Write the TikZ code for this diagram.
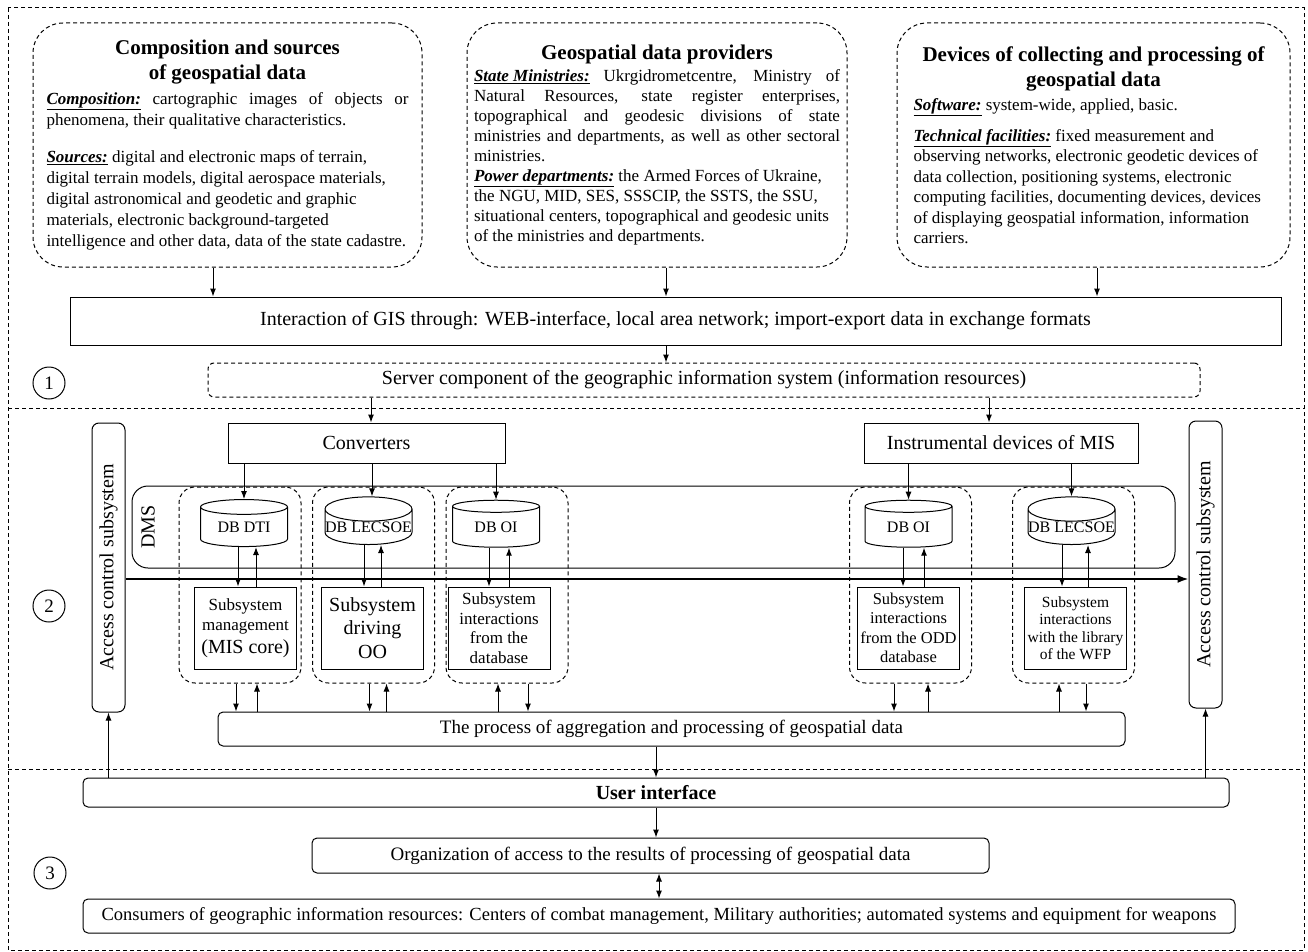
\documentclass[tikz,border=0pt]{standalone}
\usepackage{fontspec}
\setmainfont{Liberation Serif}
\usetikzlibrary{arrows.meta,positioning,shapes.geometric}

\newcommand{\hd}[1]{\underline{\textbf{\textit{#1}}}}
\newcommand{\fsz}[2]{\fontsize{#1}{#2}\selectfont}
\hyphenpenalty=10000

\tikzset{
  dsh/.style={dash pattern=on 4pt off 3pt},
  srcbox/.style={draw, dsh, rounded corners=30pt, minimum height=244pt, align=justify, inner sep=0pt},
  plainbox/.style={draw, inner sep=0pt, font=\fsz{20}{23}},
  rbox/.style={draw, rounded corners=5pt, inner sep=0pt, font=\fsz{19}{22}},
  grp/.style={draw, dsh, rounded corners=16pt, minimum width=122pt, minimum height=196pt},
  db/.style={draw, cylinder, shape border rotate=90, aspect=0.28, minimum width=87pt, minimum height=47pt, inner sep=0pt, font=\fsz{16}{18}},
  sub/.style={draw, minimum width=102pt, minimum height=82pt, inner sep=0pt, align=center},
  num/.style={draw, circle, minimum size=32pt, inner sep=0pt, font=\fsz{19}{20}},
}

\begin{document}
\begin{tikzpicture}[x=1pt, y=-1pt, line width=1pt, >={Latex[length=8pt,width=6pt]}]
\useasboundingbox (0,0) rectangle (1308,952);
% frame and levels
\draw[dsh] (8,8) rectangle (1304,950);
\draw[dsh] (8,408) -- (1304,408);
\draw[dsh] (8,769) -- (1304,769);

% level 1
\node[srcbox, minimum width=389pt, text width=362pt] (srcA) at (227.5,145) {%
  {\centering\fsz{21}{25}\bfseries Composition and sources\\of geospatial data\par}
  \vspace{4pt}
  {\fsz{17}{21}\hd{Composition:} cartographic images of objects or\linebreak phenomena, their qualitative characteristics.\par
  \vspace{16pt}
  \hd{Sources:} digital and electronic maps of terrain,\newline digital terrain models, digital aerospace materials,\newline digital astronomical and geodetic and graphic\newline materials, electronic background-targeted\newline intelligence and other data, data of the state cadastre.\par}};
\node[srcbox, minimum width=380pt, text width=366pt] (srcB) at (657,145) {%
  {\centering\fsz{21}{25}\bfseries Geospatial data providers\par}
  \vspace{2pt}
  {\fsz{17}{20}\hd{State Ministries:} Ukrgidrometcentre, Ministry of\linebreak Natural Resources, state register enterprises,\linebreak topographical and geodesic divisions of state\linebreak ministries and departments, as well as other sectoral\linebreak ministries.\par
  \hd{Power departments:} the Armed Forces of Ukraine,\newline the NGU, MID, SES, SSSCIP, the SSTS, the SSU,\newline situational centers, topographical and geodesic units\newline of the ministries and departments.\par}};
\node[srcbox, minimum width=393pt, text width=360pt] (srcC) at (1093.5,145) {%
  {\centering\fsz{21}{25}\bfseries Devices of collecting and processing of\\geospatial data\par}
  \vspace{4pt}
  {\fsz{17}{20.5}\hd{Software:} system-wide, applied, basic.\par
  \vspace{10pt}
  \hd{Technical facilities:} fixed measurement and\newline observing networks, electronic geodetic devices of\newline data collection, positioning systems, electronic\newline computing facilities, documenting devices, devices\newline of displaying geospatial information, information\newline carriers.\par}};

\node[plainbox, minimum width=1211pt, minimum height=48pt] (inter) at (675.5,321) {Interaction of GIS through: WEB-interface, local area network; import-export data in exchange formats};
\node[draw, dsh, rounded corners=6pt, minimum width=992pt, minimum height=34pt, inner sep=0pt, font=\fsz{20}{23}] (srv) at (704,380) {Server component of the geographic information system (information resources)};
\node[num] (n1) at (49,383) {1};

\draw[->] ([xshift=-14.5pt]srcA.south) -- ([xshift=-14.5pt]srcA.south |- inter.north);
\draw[->] ([xshift=9pt]srcB.south) -- ([xshift=9pt]srcB.south |- inter.north);
\draw[->] ([xshift=3.5pt]srcC.south) -- ([xshift=3.5pt]srcC.south |- inter.north);
\draw[->] ([xshift=9pt]srcB.south |- inter.south) -- ([xshift=9pt]srcB.south |- srv.north);

% level 2
\node[plainbox, minimum width=277pt, minimum height=40pt] (conv) at (366.5,443) {Converters};
\node[plainbox, minimum width=274pt, minimum height=40pt] (mis) at (1001,443) {Instrumental devices of MIS};
\node[draw, rounded corners=7pt, rotate=90, minimum width=289pt, minimum height=33pt, inner sep=0pt, font=\fsz{20}{22}] (lacs) at (108.5,567.5) {Access control subsystem};
\node[draw, rounded corners=7pt, rotate=90, minimum width=287pt, minimum height=33pt, inner sep=0pt, font=\fsz{20}{22}] (racs) at (1205.5,564.5) {Access control subsystem};
\node[num] (n2) at (49,606) {2};

\node[draw, rounded corners=16pt, minimum width=1043pt, minimum height=82pt] (dms) at (653.5,527) {};
\node[rotate=90, font=\fsz{20}{22}] (dmsname) at (148,527) {DMS};

\node[grp] (grpA) at (240,585) {};
\node[grp] (grpB) at (373.5,585) {};
\node[grp] (grpC) at (507,585) {};
\node[grp] (grpD) at (910.5,585) {};
\node[grp] (grpE) at (1073.5,585) {};

\node[db] (dbA) at (244,527) {DB DTI};
\node[db] (dbB) at (368.5,527) {DB LECSOE};
\node[db] (dbC) at (496,527) {DB OI};
\node[db] (dbD) at (908.5,527) {DB OI};
\node[db] (dbE) at (1071.5,527) {DB LECSOE};

\node[sub, font=\fsz{17}{20}] (sbA) at (245.5,628) {Subsystem\\management\\[3pt]{\fsz{20}{22}(MIS core)}};
\node[sub, font=\fsz{20}{23.5}] (sbB) at (372.5,628) {Subsystem\\driving\\OO};
\node[sub, font=\fsz{17}{19.5}] (sbC) at (499,628) {Subsystem\\interactions\\from the\\database};
\node[sub, font=\fsz{16.5}{19.5}] (sbD) at (908.5,628) {Subsystem\\interactions\\from the ODD\\database};
\node[sub, font=\fsz{15.5}{17.5}] (sbE) at (1075.5,628) {Subsystem\\interactions\\with the library\\of the WFP};

\draw[->] ([xshift=4.5pt]conv.north |- srv.south) -- ([xshift=4.5pt]conv.north);
\draw[->] ([xshift=-12pt]mis.north |- srv.south) -- ([xshift=-12pt]mis.north);
\draw[->] (conv.south -| dbA.north) -- (dbA.north);
\draw[->] ([xshift=3.5pt]conv.south -| dbB.north) -- ([xshift=3.5pt]dbB.north);
\draw[->] (conv.south -| dbC.north) -- (dbC.north);
\draw[->] (mis.south -| dbD.north) -- (dbD.north);
\draw[->] (mis.south -| dbE.north) -- (dbE.north);

% base <-> subsystem
\draw[->] ([xshift=-6pt]dbA.south) -- ([xshift=-6pt]dbA.south |- sbA.north);
\draw[<-] ([xshift=12pt]dbA.south) -- ([xshift=12pt]dbA.south |- sbA.north);
\draw[->] ([xshift=-4.5pt]dbB.south) -- ([xshift=-4.5pt]dbB.south |- sbB.north);
\draw[<-] ([xshift=12.5pt]dbB.south) -- ([xshift=12.5pt]dbB.south |- sbB.north);
\draw[->] ([xshift=-7pt]dbC.south) -- ([xshift=-7pt]dbC.south |- sbC.north);
\draw[<-] ([xshift=13pt]dbC.south) -- ([xshift=13pt]dbC.south |- sbC.north);
\draw[->] ([xshift=-5.5pt]dbD.south) -- ([xshift=-5.5pt]dbD.south |- sbD.north);
\draw[<-] ([xshift=15.5pt]dbD.south) -- ([xshift=15.5pt]dbD.south |- sbD.north);
\draw[->] ([xshift=-9.5pt]dbE.south) -- ([xshift=-9.5pt]dbE.south |- sbE.north);
\draw[<-] ([xshift=16.5pt]dbE.south) -- ([xshift=16.5pt]dbE.south |- sbE.north);

\coordinate (bus) at (0,579);
\draw[line width=1.8pt, -{Latex[length=11pt,width=8pt]}] (lacs.south |- bus) -- (racs.north |- bus);

% level 2 -> processing
\node[rbox, minimum width=907pt, minimum height=34pt] (proc) at (671.5,729) {The process of aggregation and processing of geospatial data};

\draw[->] ([xshift=-4pt]grpA.south) -- ([xshift=-4pt]grpA.south |- proc.north);
\draw[<-] ([xshift=17pt]grpA.south) -- ([xshift=17pt]grpA.south |- proc.north);
\draw[->] ([xshift=-4pt]grpB.south) -- ([xshift=-4pt]grpB.south |- proc.north);
\draw[<-] ([xshift=13pt]grpB.south) -- ([xshift=13pt]grpB.south |- proc.north);
\draw[<-] ([xshift=-9pt]grpC.south) -- ([xshift=-9pt]grpC.south |- proc.north);
\draw[->] ([xshift=21pt]grpC.south) -- ([xshift=21pt]grpC.south |- proc.north);
\draw[->] ([xshift=-16.5pt]grpD.south) -- ([xshift=-16.5pt]grpD.south |- proc.north);
\draw[<-] ([xshift=17.5pt]grpD.south) -- ([xshift=17.5pt]grpD.south |- proc.north);
\draw[<-] ([xshift=-14.5pt]grpE.south) -- ([xshift=-14.5pt]grpE.south |- proc.north);
\draw[->] ([xshift=12.5pt]grpE.south) -- ([xshift=12.5pt]grpE.south |- proc.north);

% level 3
\node[rbox, minimum width=1146pt, minimum height=29pt, font=\fsz{20}{22}\bfseries] (ui) at (656,792.5) {User interface};
\node[rbox, minimum width=677pt, minimum height=35pt] (org) at (650.5,855.5) {Organization of access to the results of processing of geospatial data};
\node[rbox, minimum width=1152pt, minimum height=34pt, font=\fsz{18.5}{21}] (cons) at (659,916) {Consumers of geographic information resources: Centers of combat management, Military authorities; automated systems and equipment for weapons};
\node[num] (n3) at (50,873) {3};

\draw[->] (proc.south -| ui.north) -- (ui.north);
\draw[->] (ui.south) -- (ui.south |- org.north);
\draw[<->] (org.south -| cons.north) -- (cons.north);
\draw[->] (lacs.west |- ui.north) -- (lacs.west);
\draw[->] (racs.west |- ui.north) -- (racs.west);
\end{tikzpicture}
\end{document}
